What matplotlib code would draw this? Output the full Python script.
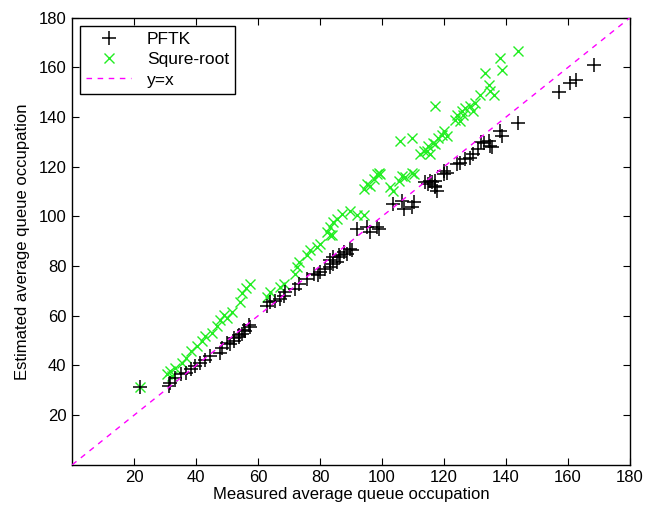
"""
plot.py
scatter of estimated vs measured average queue occupation (PFTK and square-root models)
with the y=x reference line. saves out.png.
"""

import matplotlib
matplotlib.use("Agg")
import matplotlib.pyplot as plt

plt.rcParams["font.family"] = ["Liberation Sans", "DejaVu Sans"]

# ---- data -----------------------------------------------------------------
pftk_x = [22.0, 31.2, 31.7, 33.3, 35.0, 36.6, 38.2, 39.8, 41.4, 43.0, 44.6, 47.8,
          48.4, 50.0, 52.1, 53.7, 55.4, 57.0, 51.0, 52.1, 53.7, 54.8, 55.9, 57.5,
          62.9, 64.0, 65.6, 67.2, 68.3, 68.8, 72.0, 73.1, 75.8, 77.9, 79.5, 80.1,
          81.7, 83.3, 84.3, 85.4, 86.5, 88.7, 90.3, 83.3, 84.3, 86.0, 87.6, 89.8,
          91.9, 95.2, 96.2, 98.4, 98.9, 103.7, 106.5, 107.0, 109.7, 110.2, 114.0,
          115.6, 117.2, 117.7, 119.9, 115.0, 116.1, 117.2, 117.2, 119.9, 121.0,
          124.2, 125.3, 126.9, 128.5, 129.5, 131.0, 132.8, 134.4, 135.0, 132.0,
          135.5, 138.0, 138.6, 144.0, 157.0, 160.7, 162.7, 168.5]
pftk_y = [31.5, 31.7, 33.0, 35.0, 36.4, 37.0, 38.4, 39.7, 41.0, 42.4, 43.7, 45.0,
          47.0, 49.0, 51.0, 52.4, 54.4, 56.4, 48.7, 50.0, 51.4, 52.7, 54.0, 55.4,
          64.0, 65.4, 66.0, 66.7, 68.0, 69.4, 70.7, 72.7, 74.7, 77.0, 76.4, 77.7,
          79.0, 79.7, 81.0, 81.7, 83.7, 85.0, 86.4, 82.4, 83.7, 84.4, 85.7, 87.0,
          95.0, 95.7, 93.7, 95.7, 95.0, 105.0, 106.4, 103.0, 103.7, 105.7, 113.7,
          114.4, 112.4, 110.4, 118.4, 113.0, 113.7, 114.4, 111.7, 117.0, 117.7,
          121.0, 121.7, 123.0, 123.7, 125.0, 127.0, 129.7, 130.4, 128.4, 130.0,
          128.0, 134.4, 132.4, 137.5, 150.0, 153.7, 155.0, 160.8]

sqrt_x = [22.0, 30.6, 31.7, 32.2, 33.3, 35.5, 36.6, 38.2, 40.3, 41.9, 43.0, 45.2,
          46.8, 47.8, 48.9, 50.0, 51.6, 54.3, 54.8, 57.5, 56.0, 62.9, 64.0, 67.2,
          68.3, 72.0, 72.6, 73.1, 75.8, 76.9, 79.0, 80.1, 82.3, 83.3, 83.3, 83.8,
          84.3, 85.4, 87.1, 89.8, 91.9, 94.1, 94.1, 95.2, 96.2, 97.3, 98.4, 98.9,
          99.5, 102.7, 103.7, 105.4, 106.5, 107.5, 109.7, 110.2, 105.9, 109.7,
          112.3, 113.4, 114.5, 115.0, 115.5, 116.6, 117.2, 118.2, 119.4, 119.9,
          120.9, 117.2, 123.6, 124.2, 125.3, 125.8, 126.3, 126.9, 128.5, 130.1,
          131.7, 135.0, 136.0, 129.5, 133.3, 134.4, 138.0, 138.7, 144.0]
sqrt_y = [31.5, 36.4, 37.7, 35.7, 39.0, 41.0, 43.0, 45.7, 47.7, 49.7, 51.7, 53.0,
          55.7, 58.4, 60.4, 59.0, 61.7, 65.7, 69.0, 73.0, 71.0, 67.7, 69.7, 71.7,
          73.0, 77.0, 79.7, 81.7, 84.4, 86.4, 87.7, 89.0, 93.7, 92.4, 95.7, 92.4,
          97.7, 99.0, 101.0, 102.4, 100.4, 100.4, 111.0, 113.0, 112.4, 115.0, 117.0,
          117.7, 117.0, 111.7, 110.4, 114.4, 116.4, 115.7, 117.7, 117.0, 130.4,
          131.7, 125.0, 126.4, 126.4, 128.4, 125.0, 129.7, 129.0, 131.7, 133.0,
          134.4, 132.4, 144.4, 139.0, 141.0, 138.4, 142.4, 141.0, 143.7, 144.4,
          145.7, 149.0, 150.4, 149.0, 142.4, 157.7, 153.0, 163.7, 159.0, 166.8]

diag = [0, 180]
ticks = [20, 40, 60, 80, 100, 120, 140, 160, 180]

# ---- figure ----------------------------------------------------------------
fig = plt.figure(figsize=(6.5, 5.08), dpi=100)
ax = fig.add_axes([0.111, 0.085, 0.858, 0.880])

ax.plot(pftk_x, pftk_y, "+", color="black", markersize=10, markeredgewidth=1.1,
        label="PFTK", zorder=3)
ax.plot(sqrt_x, sqrt_y, "x", color="#22ee22", markersize=7, markeredgewidth=1.0,
        label="Squre-root", zorder=2)
ax.plot(diag, diag, "--", color="#ff00ff", linewidth=1.0, dashes=(4, 4),
        label="y=x", zorder=4)

ax.set_xlim(0, 180)
ax.set_ylim(0, 180)
ax.set_xticks(ticks)
ax.set_yticks(ticks)
ax.tick_params(direction="in", top=True, right=True, length=5, labelsize=12,
               pad=4)
for s in ax.spines.values():
    s.set_linewidth(1.0)

ax.set_xlabel("Measured average queue occupation", fontsize=12, labelpad=1)
ax.set_ylabel("Estimated average queue occupation", fontsize=12, labelpad=6)

leg = ax.legend(loc="upper left", fontsize=12.5, fancybox=False, framealpha=1,
                edgecolor="black", borderaxespad=0.45, handletextpad=0.9,
                handlelength=2.6, borderpad=0.35, labelspacing=0.3)
leg.get_frame().set_linewidth(1.0)

fig.savefig("out.png", dpi=100)
plt.close(fig)
